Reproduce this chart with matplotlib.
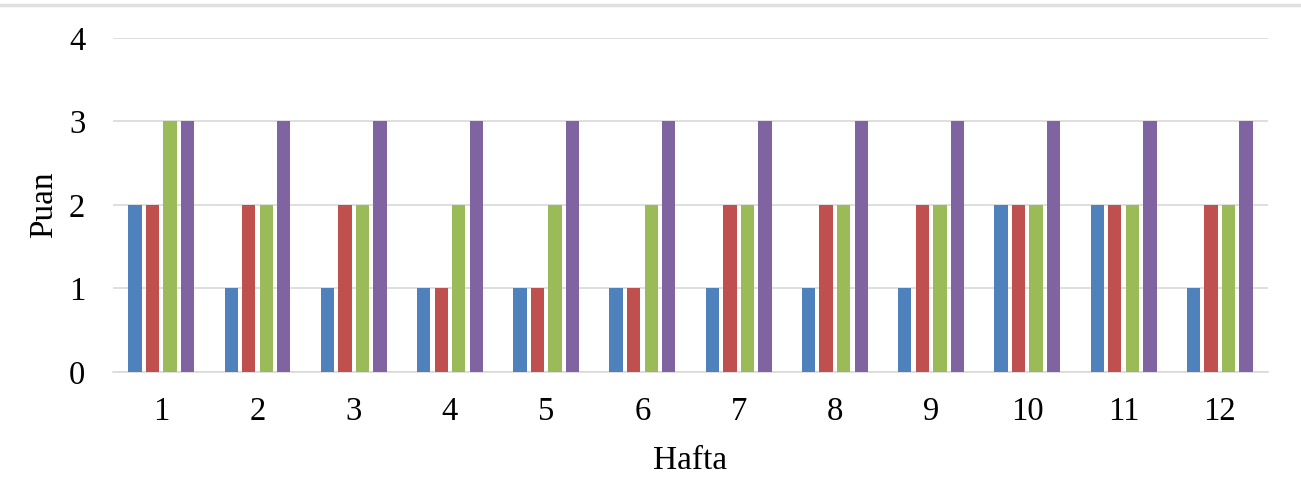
import numpy as np
import matplotlib.pyplot as plt
from matplotlib.lines import Line2D

# Data
weeks = ["1", "2", "3", "4", "5", "6", "7", "8", "9", "10", "11", "12"]
series1 = [2, 1, 1, 1, 1, 1, 1, 1, 1, 2, 2, 1]
series2 = [2, 2, 2, 1, 1, 1, 2, 2, 2, 2, 2, 2]
series3 = [3, 2, 2, 2, 2, 2, 2, 2, 2, 2, 2, 2]
series4 = [3, 3, 3, 3, 3, 3, 3, 3, 3, 3, 3, 3]
colors = ["#4F81BD", "#C0504D", "#9BBB59", "#8064A2"]

plt.rcParams['font.family'] = ['Liberation Serif', 'DejaVu Serif']

fig = plt.figure(figsize=(13.01, 4.86), dpi=100)
ax = fig.add_axes([0.0869, 0.2346, 0.8877, 0.6872])

x = np.arange(len(weeks))
step = 0.182
width = 0.138
for i, vals in enumerate([series1, series2, series3, series4]):
    ax.bar(x + (i - 1.5)*step, vals, width, color=colors[i], zorder=3)

ax.set_xlim(-0.5, len(weeks) - 0.5)
ax.set_ylim(0, 4)
ax.set_yticks([0, 1, 2, 3, 4])
ax.set_xticks(x)
ax.set_xticklabels(weeks)
ax.grid(axis='y', color='#D9D9D9', linewidth=1.2, zorder=0)
for s in ['top', 'right', 'left']:
    ax.spines[s].set_visible(False)
ax.spines['bottom'].set_color('#D9D9D9')
ax.spines['bottom'].set_linewidth(1.2)
ax.tick_params(axis='both', length=0, labelsize=23.5)
ax.tick_params(axis='x', pad=18)
ax.tick_params(axis='y', pad=20)
ax.set_xlabel("Hafta", fontsize=24, labelpad=13)
ax.set_ylabel("Puan", fontsize=24, labelpad=7)

# thin border line at the top of the image
fig.add_artist(Line2D([0, 1], [0.99, 0.99], color='#E0E0E0', linewidth=2.5,
                      transform=fig.transFigure))

fig.savefig("out.png", dpi=100)
